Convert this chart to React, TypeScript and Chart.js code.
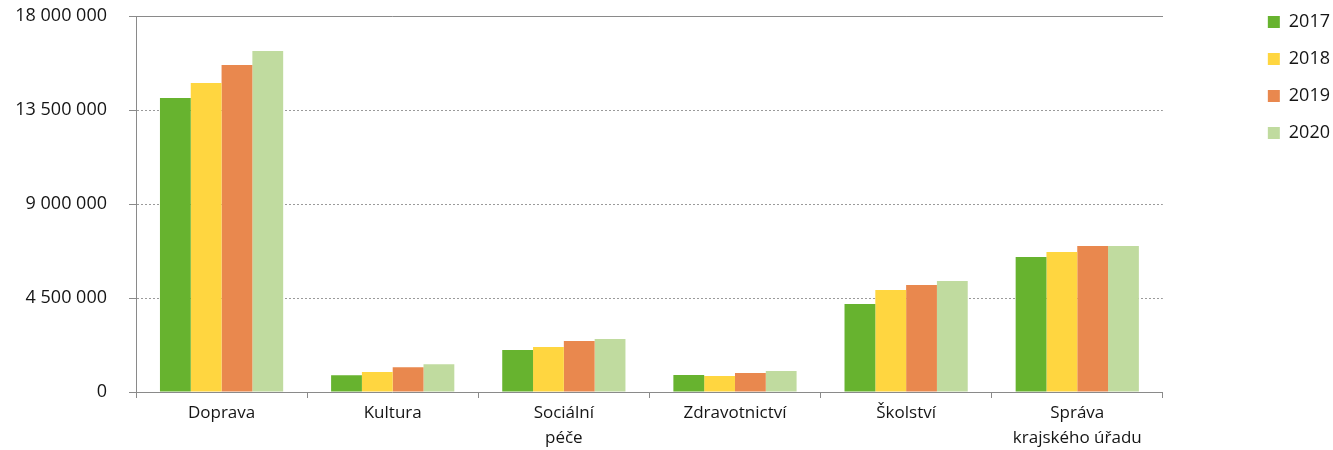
import React, { useEffect, useRef } from "react";
import { Chart, registerables } from "chart.js";

Chart.register(...registerables);

const categories: (string | string[])[] = [
  "Doprava",
  "Kultura",
  ["Sociální", "péče"],
  "Zdravotnictví",
  "Školství",
  ["Správa", "krajského úřadu"],
];

const years = ["2017", "2018", "2019", "2020"];

const values2017 = [14070000, 800000, 2010000, 810000, 4210000, 6460000];
const values2018 = [14790000, 960000, 2150000, 770000, 4880000, 6700000];
const values2019 = [15650000, 1190000, 2440000, 910000, 5120000, 6990000];
const values2020 = [16320000, 1330000, 2540000, 1000000, 5310000, 6990000];

const colors = ["#67B32F", "#FFD640", "#E9884E", "#C0DB9F"];

const yMin = 0;
const yMax = 18000000;
const yStep = 4500000;

const FONT = "'Open Sans', sans-serif";
const TEXT = "#151515";
const AXIS = "#8a8a8a";

function fmt(v: number): string {
  return String(Math.round(v)).replace(/\B(?=(\d{3})+(?!\d))/g, " ");
}

export default function App() {
  const ref = useRef<HTMLCanvasElement | null>(null);

  useEffect(() => {
    if (!ref.current) return;
    const series = [values2017, values2018, values2019, values2020];
    const chart = new Chart(ref.current, {
      type: "bar",
      data: {
        labels: categories,
        datasets: series.map((vals, i) => ({
          label: years[i],
          data: vals,
          backgroundColor: colors[i],
          borderWidth: 0,
          categoryPercentage: 0.72,
          barPercentage: 1,
        })),
      },
      options: {
        animation: false,
        responsive: false,
        layout: { padding: { top: -6, right: -7, bottom: 0, left: 0 } },
        plugins: {
          tooltip: { enabled: false },
          legend: {
            position: "right",
            align: "start",
            labels: {
              boxWidth: 12,
              boxHeight: 12,
              padding: 19,
              color: TEXT,
              font: { family: FONT, size: 18 },
            },
          },
        },
        scales: {
          x: {
            position: "bottom",
            grid: {
              offset: true,
              drawOnChartArea: false,
              drawTicks: true,
              tickLength: 6,
              color: AXIS,
              lineWidth: 1,
            },
            border: { display: true, color: AXIS, width: 1 },
            ticks: {
              color: TEXT,
              font: { family: FONT, size: 17, lineHeight: 1.5 },
              padding: 2,
              maxRotation: 0,
              autoSkip: false,
            },
            afterFit: (s: any) => {
              s.height = 58;
            },
          },
          xTop: {
            type: "category",
            position: "top",
            display: true,
            grid: { display: false, drawTicks: false },
            ticks: { display: false },
            border: { display: true, color: AXIS, width: 1 },
            afterFit: (s: any) => {
              s.height = 22;
            },
          },
          y: {
            position: "left",
            min: yMin,
            max: yMax,
            grid: {
              color: "#9a9a9a",
              lineWidth: 1,
              drawTicks: true,
              tickLength: 7,
              tickColor: AXIS,
              tickBorderDash: [],
            },
            border: { display: true, color: AXIS, width: 1, dash: [2, 2] },
            ticks: {
              stepSize: yStep,
              color: TEXT,
              font: { family: FONT, size: 18 },
              padding: 22,
              callback: (v: any) => fmt(Number(v)),
            },
            afterFit: (s: any) => {
              s.width = 136;
              s.paddingTop = 11;
              s.paddingBottom = 11;
            },
          },
          yRight: {
            type: "linear",
            position: "right",
            display: true,
            grid: { display: false, drawTicks: false },
            ticks: { display: false },
            border: { display: false },
            afterFit: (s: any) => {
              s.width = 86;
            },
          },
        },
      } as any,
    });
    return () => chart.destroy();
  }, []);

  return (
    <div style={{ position: "absolute", left: 0, top: 0, width: 1333, height: 450 }}>
      <canvas ref={ref} width={1333} height={450} />
    </div>
  );
}
